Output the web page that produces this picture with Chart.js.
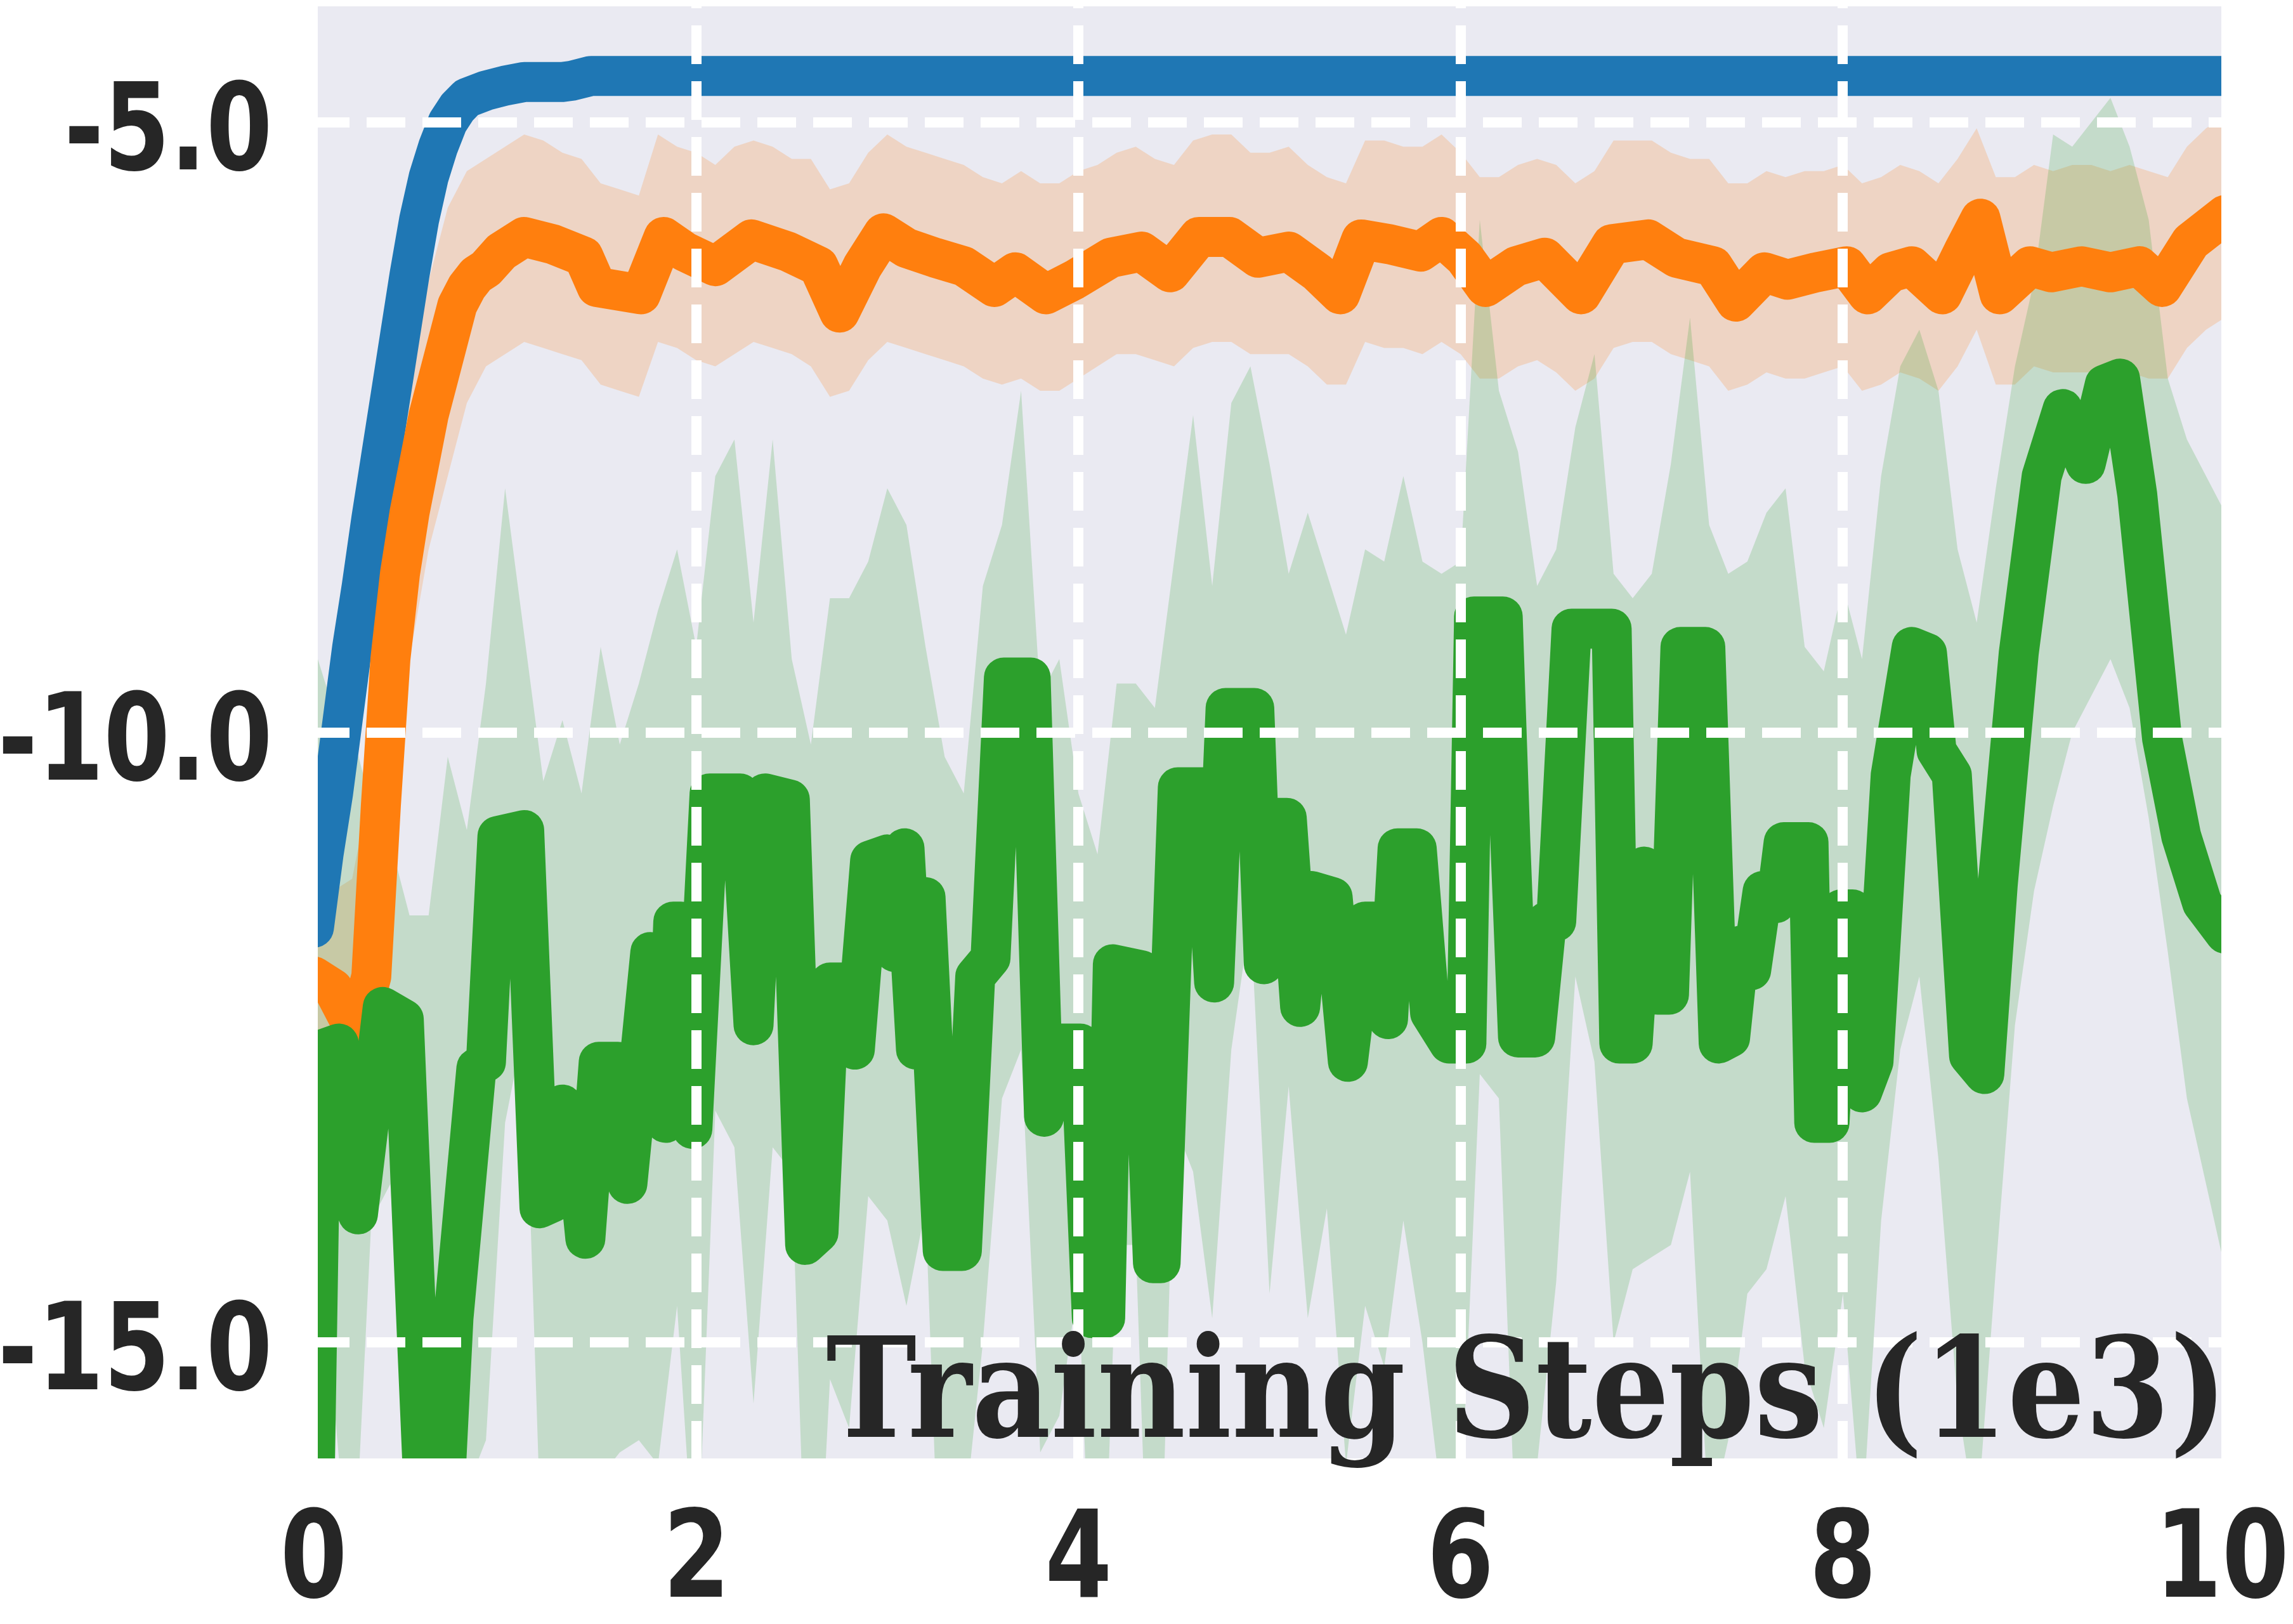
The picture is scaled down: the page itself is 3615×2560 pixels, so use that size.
<!DOCTYPE html>
<html>
<head>
<meta charset="utf-8">
<script src="https://cdn.jsdelivr.net/npm/chart.js@4.4.1/dist/chart.umd.min.js"></script>
<style>
  html, body { margin: 0; padding: 0; background: #ffffff; }
  #chart { display: block; width: 3615px; height: 2560px; }
</style>
</head>
<body>
<canvas id="chart" width="3615" height="2560"></canvas>
<script>
// ── Data ──────────────────────────────────────────────────────────────────
const xTitle = 'Training Steps (1e3)';
const xTicks = [0, 2, 4, 6, 8, 10];
const yTicks = [-15, -10, -5];

const blueSteps = [0, 0.05, 0.1, 0.15, 0.2, 0.25, 0.3, 0.35, 0.4, 0.45, 0.5, 0.55, 0.6, 0.65, 0.7, 0.75, 0.8, 0.9, 1.0, 1.1, 1.2, 1.3, 1.35, 1.45, 1.5, 2, 4, 6, 8, 10];
const blueMean  = [-11.6, -11.0, -10.5, -9.9, -9.3, -8.8, -8.25, -7.75, -7.25, -6.75, -6.25, -5.8, -5.45, -5.2, -5.0, -4.88, -4.8, -4.74, -4.7, -4.67, -4.67, -4.67, -4.66, -4.62, -4.62, -4.62, -4.62, -4.62, -4.62, -4.62];
const blueUpper = [-11.5, -10.85, -10.3, -9.65, -9.0, -8.5, -7.9, -7.4, -6.9, -6.4, -5.9, -5.5, -5.2, -5.0, -4.85, -4.78, -4.72, -4.69, -4.66, -4.64, -4.65, -4.65, -4.64, -4.61, -4.62, -4.62, -4.62, -4.62, -4.62, -4.62];
const blueLower = [-11.7, -11.15, -10.7, -10.15, -9.6, -9.1, -8.6, -8.1, -7.6, -7.1, -6.6, -6.1, -5.7, -5.4, -5.15, -4.98, -4.88, -4.79, -4.74, -4.7, -4.69, -4.69, -4.68, -4.63, -4.62, -4.62, -4.62, -4.62, -4.62, -4.62];

const orangeSteps = [0, 0.1, 0.2, 0.25, 0.3, 0.35, 0.4, 0.45, 0.5, 0.55, 0.6, 0.65, 0.7, 0.75, 0.8, 0.85, 0.9,
  0.98, 1.1, 1.25, 1.41, 1.48, 1.71, 1.83, 1.94, 2.1, 2.29, 2.48, 2.64, 2.75, 2.87, 2.98, 3.1, 3.25, 3.4, 3.56, 3.67,
  3.83, 3.98, 4.17, 4.33, 4.48, 4.63, 4.79, 4.94, 5.1, 5.25, 5.37, 5.48, 5.63, 5.79, 5.9, 6.02, 6.13, 6.29, 6.44,
  6.63, 6.79, 6.98, 7.13, 7.32, 7.44, 7.59, 7.71, 7.86, 8.02, 8.13, 8.25, 8.36, 8.52, 8.63, 8.72, 8.82, 8.98, 9.09,
  9.25, 9.4, 9.55, 9.67, 9.82, 10.0];
const orangeMean = [-12.0, -12.1, -12.4, -12.3, -12.0, -10.6, -9.4, -8.7, -8.2, -7.8, -7.4, -7.1, -6.8, -6.5, -6.35, -6.25, -6.2,
  -6.06, -5.94, -6.0, -6.1, -6.35, -6.41, -5.94, -6.06, -6.18, -5.96, -6.06, -6.18, -6.56, -6.18, -5.91, -6.03, -6.11, -6.18, -6.35, -6.23,
  -6.41, -6.29, -6.11, -6.06, -6.23, -5.94, -5.94, -6.11, -6.06, -6.23, -6.41, -5.96, -6.0, -6.06, -5.94, -6.11, -6.35, -6.18, -6.11,
  -6.41, -6.0, -5.96, -6.11, -6.18, -6.47, -6.23, -6.29, -6.23, -6.18, -6.41, -6.23, -6.18, -6.41, -6.06, -5.79, -6.41, -6.18, -6.23,
  -6.18, -6.23, -6.18, -6.35, -5.98, -5.76];

const greenSteps = [0, 0.04, 0.13, 0.23, 0.36, 0.47, 0.54, 0.6, 0.66, 0.73, 0.85, 0.9, 0.96, 1.1, 1.18, 1.25, 1.3, 1.36, 1.42,
  1.49, 1.59, 1.64, 1.7, 1.76, 1.84, 1.88, 1.92, 1.98, 2.07, 2.23, 2.3, 2.36, 2.49, 2.57, 2.64, 2.7, 2.76, 2.83, 2.91,
  3.0, 3.04, 3.09, 3.15, 3.2, 3.29, 3.39, 3.46, 3.54, 3.61, 3.75, 3.82, 3.9, 4.01, 4.07, 4.14, 4.18, 4.33, 4.39, 4.43,
  4.52, 4.65, 4.71, 4.77, 4.92, 4.97, 5.03, 5.09, 5.16, 5.22, 5.33, 5.41, 5.5, 5.56, 5.62, 5.67, 5.77, 5.84, 5.94, 6.03,
  6.07, 6.22, 6.26, 6.3, 6.39, 6.45, 6.5, 6.58, 6.79, 6.83, 6.9, 6.96, 7.03, 7.09, 7.15, 7.28, 7.35, 7.41, 7.46, 7.52,
  7.58, 7.65, 7.69, 7.82, 7.85, 7.93, 7.99, 8.05, 8.1, 8.16, 8.25, 8.36, 8.44, 8.49, 8.57, 8.66, 8.74, 8.81, 8.92, 9.04,
  9.15, 9.27, 9.37, 9.45, 9.54, 9.67, 9.77, 9.88, 10.0];
const greenMean = [-16.5, -12.6, -12.55, -13.95, -12.25, -12.35, -15.0, -17.2, -17.0, -14.8, -12.75, -12.7, -10.85, -10.8, -13.9, -13.85, -13.05, -13.2, -14.15,
  -12.7, -12.7, -13.7, -12.75, -11.8, -13.2, -11.55, -11.55, -13.25, -10.5, -10.5, -12.4, -10.5, -10.55, -14.2, -14.1, -12.05, -12.05, -12.6, -11.05,
  -11.0, -11.8, -10.95, -12.6, -11.35, -14.25, -14.25, -12.0, -11.85, -9.55, -9.55, -13.15, -12.55, -12.55, -14.8, -14.8, -11.9, -11.95, -14.35, -14.35,
  -10.45, -10.45, -12.05, -9.8, -9.8, -11.9, -10.7, -10.7, -12.25, -11.3, -11.35, -12.7, -11.55, -11.55, -12.35, -10.95, -10.95, -12.3, -12.55, -12.55,
  -9.05, -9.05, -10.9, -12.5, -12.5, -11.55, -11.55, -9.15, -9.15, -12.55, -12.55, -11.1, -12.15, -12.15, -9.3, -9.3, -12.55, -12.5, -11.75, -11.95,
  -11.3, -11.4, -10.9, -10.9, -13.2, -13.2, -11.45, -11.45, -12.95, -12.7, -10.35, -9.3, -9.35, -10.15, -10.35, -12.65, -12.8, -11.25, -9.35, -7.9,
  -7.35, -7.8, -7.15, -7.1, -8.05, -10.05, -10.85, -11.4, -11.65];

// shaded bands share one step grid (0 … 10 by 0.1)
const bandSteps = [0, 0.1, 0.2, 0.3, 0.4, 0.5, 0.6, 0.7, 0.8, 0.9,
  1, 1.1, 1.2, 1.3, 1.4, 1.5, 1.6, 1.7, 1.8, 1.9,
  2, 2.1, 2.2, 2.3, 2.4, 2.5, 2.6, 2.7, 2.8, 2.9,
  3, 3.1, 3.2, 3.3, 3.4, 3.5, 3.6, 3.7, 3.8, 3.9,
  4, 4.1, 4.2, 4.3, 4.4, 4.5, 4.6, 4.7, 4.8, 4.9,
  5, 5.1, 5.2, 5.3, 5.4, 5.5, 5.6, 5.7, 5.8, 5.9,
  6, 6.1, 6.2, 6.3, 6.4, 6.5, 6.6, 6.7, 6.8, 6.9,
  7, 7.1, 7.2, 7.3, 7.4, 7.5, 7.6, 7.7, 7.8, 7.9,
  8, 8.1, 8.2, 8.3, 8.4, 8.5, 8.6, 8.7, 8.8, 8.9,
  9, 9.1, 9.2, 9.3, 9.4, 9.5, 9.6, 9.7, 9.8, 9.9,
  10];
const orangeUpper = [-11.3, -11.3, -11.2, -10.4, -8.3, -7.0, -6.3, -5.7, -5.4, -5.3,
  -5.2, -5.1, -5.15, -5.25, -5.3, -5.5, -5.55, -5.6, -5.1, -5.2,
  -5.25, -5.35, -5.2, -5.15, -5.2, -5.3, -5.3, -5.55, -5.5, -5.25,
  -5.1, -5.2, -5.25, -5.3, -5.35, -5.45, -5.5, -5.4, -5.5, -5.5,
  -5.4, -5.35, -5.25, -5.2, -5.3, -5.35, -5.15, -5.1, -5.1, -5.25,
  -5.25, -5.2, -5.35, -5.45, -5.5, -5.15, -5.15, -5.2, -5.2, -5.1,
  -5.25, -5.45, -5.45, -5.35, -5.3, -5.35, -5.5, -5.4, -5.15, -5.15,
  -5.15, -5.25, -5.3, -5.3, -5.5, -5.5, -5.4, -5.45, -5.4, -5.4,
  -5.35, -5.5, -5.45, -5.35, -5.4, -5.5, -5.3, -5.05, -5.45, -5.45,
  -5.35, -5.4, -5.35, -5.35, -5.4, -5.35, -5.4, -5.45, -5.2, -5.05,
  -4.95];
const orangeLower = [-12.8, -12.9, -13.5, -13.2, -10.6, -9.4, -8.5, -7.9, -7.3, -7.0,
  -6.9, -6.8, -6.85, -6.9, -6.95, -7.15, -7.2, -7.25, -6.8, -6.85,
  -6.95, -7.0, -6.9, -6.8, -6.85, -6.9, -7.0, -7.25, -7.2, -6.95,
  -6.8, -6.85, -6.9, -6.95, -7.0, -7.1, -7.15, -7.1, -7.2, -7.2,
  -7.1, -7.0, -6.9, -6.9, -6.95, -7.0, -6.85, -6.8, -6.8, -6.9,
  -6.9, -6.9, -7.0, -7.15, -7.15, -6.8, -6.85, -6.85, -6.9, -6.8,
  -6.9, -7.1, -7.1, -7.0, -6.95, -7.05, -7.2, -7.1, -6.85, -6.8,
  -6.8, -6.9, -6.95, -7.0, -7.2, -7.15, -7.05, -7.1, -7.1, -7.05,
  -7.0, -7.2, -7.15, -7.05, -7.1, -7.2, -7.0, -6.7, -7.15, -7.15,
  -7.0, -7.05, -7.05, -7.05, -7.05, -7.05, -7.1, -7.1, -6.85, -6.7,
  -6.6];
const greenUpper = [-9.3, -9.8, -10.0, -10.6, -10.9, -11.5, -11.5, -10.2, -10.8, -9.6,
  -8.0, -9.2, -10.4, -9.9, -10.5, -9.3, -10.1, -9.6, -9.0, -8.5,
  -9.3, -7.9, -7.6, -9.1, -7.6, -9.4, -10.1, -8.9, -8.9, -8.6,
  -8.0, -8.3, -9.3, -10.2, -10.5, -8.8, -8.3, -7.2, -9.7, -9.4,
  -10.5, -11.0, -9.6, -9.6, -9.8, -8.6, -7.4, -8.8, -7.3, -7.0,
  -7.8, -8.7, -8.2, -8.7, -9.2, -8.5, -8.6, -7.9, -8.6, -8.7,
  -8.6, -5.8, -7.2, -7.7, -8.8, -8.5, -7.5, -6.9, -8.7, -8.9,
  -8.7, -7.8, -6.6, -8.3, -8.7, -8.6, -8.2, -8.0, -9.3, -9.5,
  -8.8, -9.4, -7.9, -7.0, -6.7, -7.2, -8.5, -9.1, -8.0, -7.0,
  -6.3, -5.1, -5.2, -5.0, -4.8, -5.2, -5.8, -7.1, -7.6, -7.9,
  -8.2];
const greenLower = [-17.0, -15.4, -17.2, -14.0, -13.7, -16.1, -19.0, -19.0, -16.2, -15.8,
  -13.2, -12.4, -17.2, -16.3, -17.5, -16.1, -15.9, -15.8, -16.0, -14.7,
  -17.1, -13.1, -13.4, -15.5, -13.4, -13.6, -18.3, -15.3, -15.7, -13.8,
  -14.0, -14.7, -13.9, -18.2, -16.5, -15.0, -13.0, -12.6, -15.9, -15.6,
  -14.5, -18.6, -14.2, -14.2, -18.8, -13.2, -13.6, -14.8, -12.6, -11.5,
  -14.6, -12.9, -14.8, -13.9, -16.0, -14.7, -15.2, -14.0, -15.0, -16.3,
  -16.4, -12.8, -13.0, -17.1, -16.0, -14.5, -12.0, -12.7, -15.0, -14.4,
  -14.3, -14.2, -13.6, -16.5, -15.8, -14.6, -14.4, -13.8, -15.2, -15.7,
  -14.6, -16.5, -14.0, -12.6, -12.0, -13.5, -15.5, -16.5, -14.4, -12.4,
  -11.3, -10.6, -10.0, -9.7, -9.4, -9.8, -10.7, -11.8, -13.0, -13.7,
  -14.4];

// ── Helpers ───────────────────────────────────────────────────────────────
const pts = (xs, ys) => xs.map((x, i) => ({ x: x, y: ys[i] }));

function meanLine(data, color, order) {
    return { data, order, borderColor: color, backgroundColor: color, borderWidth: 63,
             borderJoinStyle: 'round', borderCapStyle: 'round', tension: 0,
             pointRadius: 0, fill: false, clip: 0 };
}
function bandEdge(data, order, fill, color) {
    return { data, order, fill, backgroundColor: color || 'rgba(0,0,0,0)',
             borderColor: 'rgba(0,0,0,0)', borderWidth: 0, tension: 0, pointRadius: 0, clip: 0 };
}

// draw text horizontally squeezed so it matches the reference glyph widths
function drawSquashed(ctx, text, x, y, sx, align) {
    ctx.textAlign = 'left';
    const m = ctx.measureText(text);
    const w = (m.actualBoundingBoxLeft + m.actualBoundingBoxRight) * sx;
    const left = align === 'right' ? x - w : align === 'center' ? x - w / 2 : x;
    ctx.save();
    ctx.translate(left, y);
    ctx.scale(sx, 1);
    ctx.fillText(text, m.actualBoundingBoxLeft, 0);
    ctx.restore();
}

// ── Plugins ───────────────────────────────────────────────────────────────
const plotBackground = {
    id: 'plotBackground',
    beforeDraw(chart) {
        const { ctx, chartArea: a } = chart;
        ctx.save();
        ctx.fillStyle = '#eaeaf2';
        ctx.fillRect(a.left, a.top, a.right - a.left, a.bottom - a.top);
        ctx.restore();
    }
};

const axisText = {
    id: 'axisText',
    afterDraw(chart) {
        const { ctx, chartArea: a, scales } = chart;
        ctx.save();
        ctx.fillStyle = '#262626';
        ctx.textBaseline = 'alphabetic';
        ctx.font = 'bold 190px "DejaVu Sans"';
        yTicks.forEach(v => drawSquashed(ctx, v.toFixed(1), a.left - 78, scales.y.getPixelForValue(v) + 74, 0.79, 'right'));
        xTicks.forEach(v => drawSquashed(ctx, String(v), scales.x.getPixelForValue(v), a.bottom + 218, 0.8, 'center'));
        ctx.font = 'bold 220px "DejaVu Serif"';
        ctx.textAlign = 'left';
        const m = ctx.measureText(xTitle);
        const sx = 2190 / (m.actualBoundingBoxLeft + m.actualBoundingBoxRight);
        drawSquashed(ctx, xTitle, a.right - 8, a.bottom - 34, sx, 'right');
        ctx.restore();
    }
};

// ── Chart ─────────────────────────────────────────────────────────────────
const gridOpts = { color: '#ffffff', lineWidth: 16, drawTicks: false, z: 1 };

new Chart(document.getElementById('chart').getContext('2d'), {
    type: 'line',
    data: {
        datasets: [
            meanLine(pts(greenSteps, greenMean), '#2ca02c', 0),
            meanLine(pts(orangeSteps, orangeMean), '#ff7f0e', 1),
            meanLine(pts(blueSteps, blueMean), '#1f77b4', 2),
            bandEdge(pts(bandSteps, greenUpper), 3, 4, 'rgba(44,160,44,0.2)'),
            bandEdge(pts(bandSteps, greenLower), 4, false),
            bandEdge(pts(bandSteps, orangeUpper), 5, 6, 'rgba(255,127,14,0.2)'),
            bandEdge(pts(bandSteps, orangeLower), 6, false),
            bandEdge(pts(blueSteps, blueUpper), 7, 8, 'rgba(31,119,180,0.2)'),
            bandEdge(pts(blueSteps, blueLower), 8, false)
        ]
    },
    options: {
        responsive: false,
        devicePixelRatio: 1,
        animation: false,
        events: [],
        layout: { padding: { left: 501, right: 113, top: 10, bottom: 261 } },
        plugins: { legend: { display: false }, tooltip: { enabled: false } },
        scales: {
            x: {
                type: 'linear', min: 0.02, max: 9.98,
                grid: gridOpts,
                border: { display: false, dash: [61, 27], dashOffset: 58 },
                ticks: { display: false },
                afterBuildTicks: s => { s.ticks = xTicks.filter(v => v >= s.min && v <= s.max).map(v => ({ value: v })); },
                afterFit: s => { s.height = 0; }
            },
            y: {
                type: 'linear', min: -15.95, max: -4.05,
                grid: gridOpts,
                border: { display: false, dash: [61, 27], dashOffset: 11 },
                ticks: { display: false },
                afterBuildTicks: s => { s.ticks = yTicks.map(v => ({ value: v })); },
                afterFit: s => { s.width = 0; }
            }
        }
    },
    plugins: [plotBackground, axisText]
});
</script>
</body>
</html>
